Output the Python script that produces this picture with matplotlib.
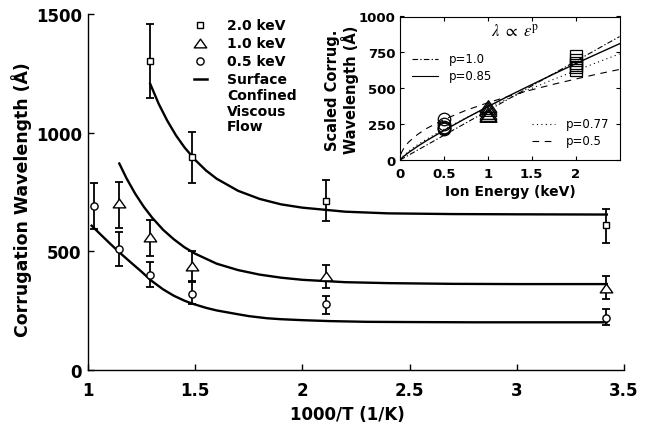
import numpy as np
import matplotlib
matplotlib.use('Agg')
import matplotlib.pyplot as plt
from matplotlib.path import Path

# --- Data

# main panel: 1000/T (1/K) vs corrugation wavelength (A)
x_20 = [1.29, 1.485, 2.11, 3.415]
y_20 = [1302, 897, 714, 609]
lo_20 = [1146, 789, 627, 536]
hi_20 = [1458, 1003, 800, 679]

x_10 = [1.146, 1.29, 1.485, 2.11, 3.415]
y_10 = [702, 561, 440, 395, 347]
lo_10 = [599, 480, 374, 347, 301]
hi_10 = [794, 634, 500, 441, 394]

x_05 = [1.028, 1.146, 1.29, 1.485, 2.11, 3.415]
y_05 = [690, 508, 400, 319, 277, 221]
lo_05 = [595, 438, 349, 280, 237, 190]
hi_05 = [786, 580, 456, 369, 313, 256]

# viscous flow curves
fit_x_20 = [1.29, 1.33, 1.37, 1.41, 1.45, 1.5, 1.55, 1.6, 1.7, 1.8, 1.9, 2.0, 2.2, 2.4, 2.7, 3.0, 3.42]
fit_y_20 = [1206, 1121, 1050, 989, 938, 885, 841, 806, 755, 721, 698, 684, 667, 660, 657, 656, 655]
fit_x_10 = [1.146, 1.18, 1.22, 1.26, 1.3, 1.35, 1.4, 1.45, 1.5, 1.6, 1.7, 1.8, 1.9, 2.0, 2.2, 2.4, 2.7, 3.0, 3.42]
fit_y_10 = [870, 807, 743, 688, 641, 591, 551, 517, 490, 448, 421, 402, 389, 380, 370, 366, 363, 362, 362]
fit_x_05 = [1.017, 1.06, 1.1, 1.146, 1.2, 1.25, 1.293, 1.35, 1.4, 1.45, 1.485, 1.55, 1.6, 1.68, 1.75,
            1.835, 1.9, 2.0, 2.13, 2.3, 2.5, 2.8, 3.1, 3.42]
fit_y_05 = [608, 570, 535, 496, 453, 414, 378, 340, 313, 292, 280, 262, 251, 238, 227,
            218, 214, 210, 206, 203, 202, 201, 201, 201]

# inset: scaled wavelength vs ion energy
ins_e_05 = [0.5, 0.5, 0.5, 0.5, 0.5]
ins_w_05 = [285, 250, 232, 220, 216]
ins_e_10 = [1, 1, 1, 1, 1, 1]
ins_w_10 = [375, 362, 350, 330, 315, 305]
ins_e_20 = [2, 2, 2, 2, 2, 2]
ins_w_20 = [722, 695, 675, 662, 650, 625]

pow_e = [0, 0.01, 0.02, 0.05, 0.1, 0.2, 0.3, 0.5, 0.75, 1, 1.25, 1.5, 1.75, 2, 2.25, 2.5]
pow_100 = [0, 3, 7, 17, 34, 69, 103, 172, 258, 344, 430, 516, 602, 688, 774, 860]
pow_085 = [0, 7, 13, 29, 53, 95, 134, 206, 291, 372, 450, 525, 599, 671, 741, 810]
pow_077 = [0, 11, 18, 36, 62, 106, 144, 214, 292, 365, 433, 499, 562, 622, 681, 739]
pow_050 = [np.nan, 40, 56, 89, 126, 178, 219, 282, 346, 399, 446, 489, 528, 564, 599, 631]

# --- Plotting

W, H = 655, 435
fig = plt.figure(figsize=(W / 100, H / 100), dpi=100)


def fx(px):
    return px / W


def fy(py):
    return 1 - py / H


# wide, flat triangle like the original marker
tri = Path([(0, 0.7), (-1, -0.7), (1, -0.7), (0, 0.7)],
           [Path.MOVETO, Path.LINETO, Path.LINETO, Path.CLOSEPOLY])

ax = fig.add_axes([fx(88), fy(371), (624 - 88) / W, (371 - 15) / H])
for s in ['top', 'right']:
    ax.spines[s].set_visible(False)
for s in ['left', 'bottom']:
    ax.spines[s].set_linewidth(1.0)

ax.plot(fit_x_20, fit_y_20, 'k-', lw=1.7)
ax.plot(fit_x_10, fit_y_10, 'k-', lw=1.7)
ax.plot(fit_x_05, fit_y_05, 'k-', lw=1.7)

eb = dict(fmt='none', ecolor='k', elinewidth=1.3, capsize=3, capthick=1.3)
ax.errorbar(x_20, y_20, yerr=[np.subtract(y_20, lo_20), np.subtract(hi_20, y_20)], **eb)
ax.errorbar(x_10, y_10, yerr=[np.subtract(y_10, lo_10), np.subtract(hi_10, y_10)], **eb)
ax.errorbar(x_05, y_05, yerr=[np.subtract(y_05, lo_05), np.subtract(hi_05, y_05)], **eb)
ax.plot(x_20, y_20, 's', ms=4.8, mfc='white', mec='k', mew=1.0, zorder=5)
ax.plot(x_10, y_10, marker=tri, ls='none', ms=9, mfc='white', mec='k', mew=1.0, zorder=5)
ax.plot(x_05, y_05, 'o', ms=5.2, mfc='white', mec='k', mew=1.0, zorder=5)

ax.set_xlim(1, 3.5)
ax.set_ylim(0, 1500)
ax.set_xticks([1, 1.5, 2, 2.5, 3, 3.5])
ax.set_xticklabels(['1', '1.5', '2', '2.5', '3', '3.5'])
ax.set_yticks([0, 500, 1000, 1500])
ax.tick_params(direction='in', length=4, width=1.0, labelsize=12)
ax.tick_params(axis='x', pad=8)
ax.tick_params(axis='y', pad=4.5)
for lab in ax.get_xticklabels() + ax.get_yticklabels():
    lab.set_fontweight('bold')

fig.text(fx(347), fy(415), '1000/T (1/K)', ha='center', va='center',
         fontsize=12, fontweight='bold')
fig.text(fx(22), fy(200), 'Corrugation Wavelength (Å)', ha='center', va='center',
         rotation=90, fontsize=12.5, fontweight='bold')

# legend of main panel
leg_y = [26, 44, 62]
leg_m = [('s', 4.8), (tri, 9), ('o', 5.2)]
leg_t = ['2.0 keV', '1.0 keV', '0.5 keV']
for yy, (m, ms), t in zip(leg_y, leg_m, leg_t):
    fig.add_artist(plt.Line2D([fx(200)], [fy(yy)], marker=m, ms=ms, mfc='white',
                              mec='k', mew=1.0, ls='none', transform=fig.transFigure))
    fig.text(fx(227), fy(yy), t, ha='left', va='center', fontsize=10, fontweight='bold')
fig.add_artist(plt.Line2D([fx(194), fx(207)], [fy(80), fy(80)], color='k', lw=1.8,
                          transform=fig.transFigure))
for yy, t in zip([80, 96, 111.5, 127], ['Surface', 'Confined', 'Viscous', 'Flow']):
    fig.text(fx(227), fy(yy), t, ha='left', va='center', fontsize=10, fontweight='bold')

# --- Inset
ax2 = fig.add_axes([fx(400), fy(161), (619.5 - 400) / W, (161 - 17.5) / H])
ax2.set_facecolor('white')
for s in ax2.spines.values():
    s.set_linewidth(0.8)

ax2.plot(pow_e, pow_100, color='k', lw=0.8, ls=(0, (5, 2, 1.2, 2)))
ax2.plot(pow_e, pow_085, color='k', lw=1.0, ls='-')
ax2.plot(pow_e, pow_077, color='k', lw=0.8, ls=(0, (1, 3)))
ax2.plot(pow_e, pow_050, color='k', lw=0.8, ls=(0, (6, 5)))

ax2.plot(ins_e_05, ins_w_05, 'o', ms=9, mfc='none', mec='k', mew=0.9)
ax2.plot(ins_e_10, ins_w_10, marker=tri, ls='none', ms=12, mfc='none', mec='k', mew=0.9)
ax2.plot(ins_e_20, ins_w_20, 's', ms=8, mfc='none', mec='k', mew=0.9)

ax2.set_xlim(0, 2.5)
ax2.set_ylim(0, 1000)
ax2.set_xticks([0, 0.5, 1, 1.5, 2])
ax2.set_xticklabels(['0', '0.5', '1', '1.5', '2'])
ax2.set_yticks([0, 250, 500, 750, 1000])
ax2.tick_params(direction='in', length=3, width=0.8, labelsize=9.5,
                top=True, right=True)
ax2.tick_params(axis='x', pad=5)
ax2.tick_params(axis='y', pad=3)
for lab in ax2.get_xticklabels() + ax2.get_yticklabels():
    lab.set_fontweight('bold')

fig.text(fx(510), fy(192), 'Ion Energy (keV)', ha='center', va='center',
         fontsize=10, fontweight='bold')
fig.text(fx(342), fy(90), 'Scaled Corrug.\nWavelength (Å)', ha='center', va='center',
         rotation=90, fontsize=10.5, fontweight='bold', linespacing=1.05)


# inset legend and title
def ins_x(px):
    return (px - 400) / 219.5


def ins_y(py):
    return (161 - py) / 143.5


inset_leg = [((411.7, 438.3), 60, (0, (5, 2, 1.2, 2)), 'p=1.0'),
             ((411.7, 438.3), 76.7, '-', 'p=0.85'),
             ((531.7, 555), 125, (0, (1, 3)), 'p=0.77'),
             ((531.7, 555), 141.7, (0, (6, 5)), 'p=0.5')]
for (x1, x2), yy, ls, t in inset_leg:
    ax2.plot([ins_x(x1), ins_x(x2)], [ins_y(yy), ins_y(yy)], color='k', lw=0.8,
             ls=ls, transform=ax2.transAxes)
    ax2.text(ins_x(x2 + 10.5), ins_y(yy), t, ha='left', va='center', fontsize=8.5,
             transform=ax2.transAxes)

plt.rcParams['mathtext.fontset'] = 'stix'
ax2.text(ins_x(515), ins_y(32), r'$\lambda\ \propto\ \epsilon^{\rm p}$', ha='center',
         va='center', fontsize=12, transform=ax2.transAxes)

fig.savefig('out.png', dpi=100)
